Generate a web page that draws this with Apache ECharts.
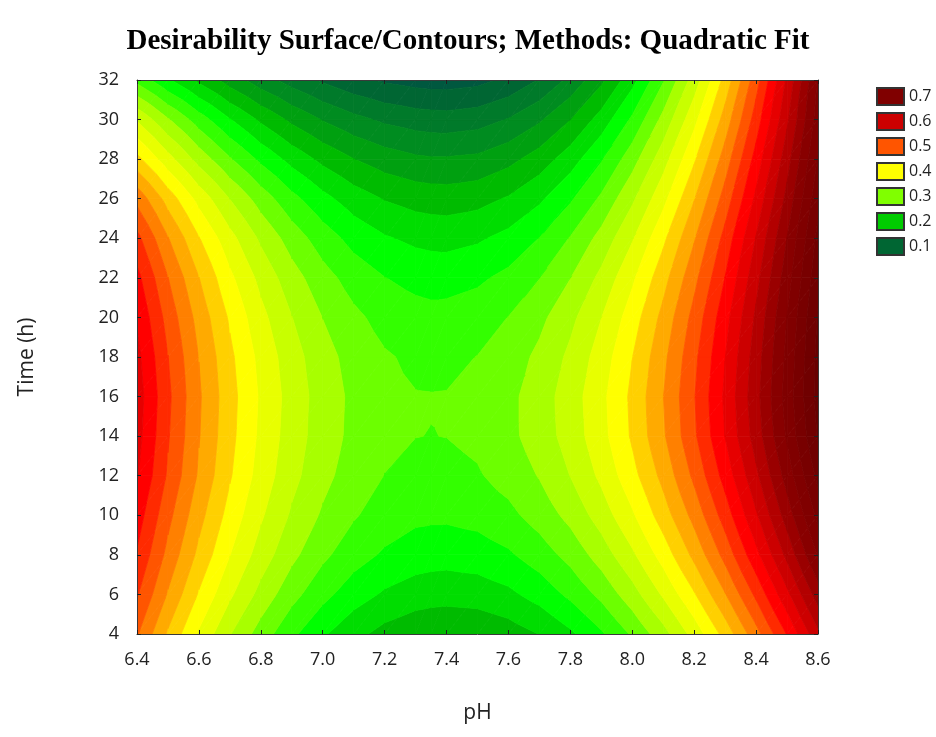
<!DOCTYPE html>
<html>
<head>
<meta charset="utf-8">
<title>Desirability Surface/Contours</title>
<script src="https://cdn.jsdelivr.net/npm/echarts@6/dist/echarts.min.js"></script>
<style>
  html, body { margin: 0; padding: 0; background: #fff; }
  #main { width: 936px; height: 737px; }
</style>
</head>
<body>
<div id="main"></div>
<script>
  // grid of the fitted surface (extra column at 7.35 for the saddle)
  const phValues = [6.4, 6.5, 6.6, 6.7, 6.8, 6.9, 7.0, 7.1, 7.2, 7.3, 7.35, 7.4, 7.5, 7.6, 7.7, 7.8, 7.9, 8.0, 8.1, 8.2, 8.3, 8.4, 8.5, 8.6];
  const timeValues = [4, 6, 8, 10, 12, 14, 16, 18, 20, 22, 24, 26, 28, 30, 32];

  // desirability along each time row, one value per pH column
  const d04 = [0.490, 0.434, 0.384, 0.339, 0.301, 0.268, 0.241, 0.220, 0.204, 0.194, 0.191, 0.190, 0.192, 0.200, 0.213, 0.233, 0.259, 0.291, 0.328, 0.372, 0.422, 0.478, 0.539, 0.607];
  const d06 = [0.515, 0.460, 0.410, 0.367, 0.329, 0.296, 0.270, 0.249, 0.234, 0.225, 0.223, 0.222, 0.224, 0.232, 0.247, 0.268, 0.294, 0.327, 0.366, 0.410, 0.461, 0.518, 0.581, 0.650];
  const d08 = [0.535, 0.480, 0.431, 0.388, 0.351, 0.319, 0.293, 0.273, 0.259, 0.250, 0.248, 0.247, 0.250, 0.259, 0.275, 0.296, 0.324, 0.358, 0.398, 0.444, 0.496, 0.555, 0.619, 0.690];
  const d10 = [0.550, 0.495, 0.446, 0.403, 0.366, 0.334, 0.309, 0.290, 0.276, 0.268, 0.267, 0.267, 0.271, 0.281, 0.298, 0.320, 0.349, 0.384, 0.425, 0.471, 0.524, 0.584, 0.649, 0.720];
  const d12 = [0.565, 0.509, 0.459, 0.415, 0.377, 0.345, 0.320, 0.300, 0.287, 0.281, 0.280, 0.280, 0.285, 0.297, 0.314, 0.338, 0.368, 0.404, 0.445, 0.493, 0.547, 0.607, 0.673, 0.745];
  const d14 = [0.572, 0.515, 0.464, 0.420, 0.382, 0.350, 0.325, 0.306, 0.294, 0.2878, 0.2872, 0.2878, 0.293, 0.306, 0.324, 0.348, 0.379, 0.416, 0.459, 0.508, 0.563, 0.624, 0.691, 0.765];
  const d16 = [0.575, 0.518, 0.466, 0.422, 0.384, 0.352, 0.326, 0.307, 0.294, 0.2885, 0.2882, 0.2885, 0.294, 0.306, 0.325, 0.350, 0.381, 0.418, 0.462, 0.511, 0.567, 0.629, 0.698, 0.772];
  const d18 = [0.570, 0.513, 0.462, 0.418, 0.380, 0.348, 0.322, 0.303, 0.290, 0.283, 0.282, 0.282, 0.288, 0.300, 0.318, 0.343, 0.374, 0.412, 0.456, 0.506, 0.562, 0.625, 0.694, 0.770];
  const d20 = [0.560, 0.503, 0.453, 0.409, 0.370, 0.338, 0.312, 0.293, 0.279, 0.272, 0.270, 0.271, 0.276, 0.288, 0.306, 0.331, 0.362, 0.400, 0.445, 0.496, 0.553, 0.617, 0.688, 0.765];
  const d22 = [0.545, 0.488, 0.438, 0.393, 0.355, 0.323, 0.297, 0.277, 0.263, 0.255, 0.253, 0.253, 0.258, 0.269, 0.287, 0.312, 0.344, 0.383, 0.428, 0.480, 0.538, 0.604, 0.676, 0.755];
  const d24 = [0.520, 0.464, 0.414, 0.371, 0.333, 0.301, 0.275, 0.254, 0.240, 0.232, 0.230, 0.229, 0.234, 0.245, 0.263, 0.289, 0.321, 0.360, 0.407, 0.460, 0.521, 0.589, 0.663, 0.745];
  const d26 = [0.480, 0.427, 0.379, 0.337, 0.301, 0.270, 0.245, 0.225, 0.211, 0.203, 0.201, 0.200, 0.204, 0.215, 0.233, 0.259, 0.292, 0.333, 0.380, 0.436, 0.498, 0.568, 0.645, 0.730];
  const d28 = [0.420, 0.372, 0.328, 0.290, 0.257, 0.229, 0.206, 0.188, 0.175, 0.167, 0.165, 0.165, 0.168, 0.180, 0.199, 0.226, 0.260, 0.302, 0.352, 0.409, 0.474, 0.547, 0.627, 0.715];
  const d30 = [0.360, 0.315, 0.275, 0.239, 0.208, 0.182, 0.161, 0.145, 0.133, 0.126, 0.124, 0.123, 0.127, 0.139, 0.159, 0.187, 0.223, 0.267, 0.320, 0.380, 0.448, 0.524, 0.608, 0.700];
  const d32 = [0.280, 0.241, 0.207, 0.176, 0.149, 0.127, 0.109, 0.094, 0.084, 0.078, 0.076, 0.076, 0.080, 0.093, 0.114, 0.144, 0.182, 0.229, 0.285, 0.349, 0.421, 0.502, 0.592, 0.690];
  const desirability = [d04, d06, d08, d10, d12, d14, d16, d18, d20, d22, d24, d26, d28, d30, d32];

  // legend
  const legendLabels = ['0.7', '0.6', '0.5', '0.4', '0.3', '0.2', '0.1'];
  const legendColors = ['#800000', '#cc0000', '#ff5500', '#ffff00', '#80ff00', '#00cc00', '#006633'];

  // contour bands: one colour per 0.025 step, centred on 0.075, 0.100 ... 0.775
  const bandStart = 0.075;
  const bandStep = 0.025;
  const bandColors = [
    '#00583f', '#006633', '#007a2a', '#008c20', '#00a010', '#00bb00', '#00dd00', '#00ff00',
    '#33ff00', '#6cff00', '#a8ff00', '#c8ff00', '#e8ff00', '#ffff00', '#ffd000', '#ffaa00',
    '#ff8000', '#ff5500', '#ff2a00', '#ff0000', '#e60000', '#cc0000', '#b30000', '#9a0000',
    '#880000', '#800000', '#780000', '#700000', '#680000'
  ];

  function bandIndex(v) {
    let k = Math.round((v - bandStart) / bandStep);
    return Math.max(0, Math.min(bandColors.length - 1, k));
  }

  // keep the part of a polygon above (or below) a level, points are [ph, time, value]
  function clipPoly(poly, level, keepAbove) {
    let out = [];
    for (let n = 0; n < poly.length; n++) {
      let a = poly[n], b = poly[(n + 1) % poly.length];
      let da = keepAbove ? a[2] - level : level - a[2];
      let db = keepAbove ? b[2] - level : level - b[2];
      if (da >= 0) out.push(a);
      if ((da >= 0) !== (db >= 0)) {
        let s = da / (da - db);
        out.push([a[0] + s * (b[0] - a[0]), a[1] + s * (b[1] - a[1]), a[2] + s * (b[2] - a[2])]);
      }
    }
    return out;
  }

  function renderCell(params, api) {
    let i = api.value(2), j = api.value(3);
    let p = (a, b) => [phValues[a], timeValues[b], desirability[b][a]];
    let c00 = p(i, j), c10 = p(i + 1, j), c01 = p(i, j + 1), c11 = p(i + 1, j + 1);
    let tris = [[c00, c10, c11], [c00, c11, c01]];
    let children = [];
    tris.forEach(tri => {
      let vs = tri.map(q => q[2]);
      let k0 = bandIndex(Math.min(...vs)), k1 = bandIndex(Math.max(...vs));
      for (let k = k0; k <= k1; k++) {
        let poly = tri;
        if (k > 0) poly = clipPoly(poly, bandStart + (k - 0.5) * bandStep, true);
        if (k < bandColors.length - 1) poly = clipPoly(poly, bandStart + (k + 0.5) * bandStep, false);
        if (poly.length < 3) continue;
        children.push({
          type: 'polygon',
          shape: { points: poly.map(q => api.coord([q[0], q[1]])) },
          style: { fill: bandColors[k], stroke: bandColors[k], lineWidth: 0.8 }
        });
      }
    });
    return { type: 'group', children: children };
  }

  let cells = [];
  for (let j = 0; j < timeValues.length - 1; j++) {
    for (let i = 0; i < phValues.length - 1; i++) {
      cells.push([(phValues[i] + phValues[i + 1]) / 2, (timeValues[j] + timeValues[j + 1]) / 2, i, j]);
    }
  }

  const labelFont = 'Open Sans';
  const frame = { show: true, onZero: false, lineStyle: { color: '#3a3a3a', width: 1 } };
  const ticks = { show: true, inside: true, length: 4, lineStyle: { color: '#222' } };

  let chart = echarts.init(document.getElementById('main'));
  chart.setOption({
    animation: false,
    backgroundColor: '#fff',
    title: {
      text: 'Desirability Surface/Contours; Methods: Quadratic Fit',
      left: 'center',
      top: 22,
      textStyle: { fontFamily: 'Liberation Serif', fontWeight: 'bold', fontSize: 29, color: '#000' }
    },
    grid: { left: 137, right: 118, top: 80, bottom: 103 },
    legend: {
      data: legendLabels,
      orient: 'vertical',
      left: 871,
      top: 82,
      icon: 'rect',
      itemWidth: 27,
      itemHeight: 17,
      itemGap: 6,
      selectedMode: false,
      textStyle: { fontFamily: labelFont, fontSize: 16, color: '#222' }
    },
    xAxis: [{
      type: 'value', min: 6.4, max: 8.6, interval: 0.2, position: 'bottom', z: 10,
      name: 'pH', nameLocation: 'middle', nameGap: 69,
      nameTextStyle: { fontFamily: labelFont, fontSize: 21, color: '#222' },
      axisLine: frame, axisTick: ticks,
      axisLabel: { margin: 17, fontFamily: labelFont, fontSize: 18, color: '#222', formatter: v => v.toFixed(1) },
      splitLine: { show: false }
    }, {
      type: 'value', min: 6.4, max: 8.6, interval: 0.2, position: 'top', z: 10,
      axisLine: frame, axisTick: ticks, axisLabel: { show: false }, splitLine: { show: false }
    }],
    yAxis: [{
      type: 'value', min: 4, max: 32, interval: 2, position: 'left', z: 10,
      name: 'Time (h)', nameLocation: 'middle', nameGap: 99, nameRotate: 90,
      nameTextStyle: { fontFamily: labelFont, fontSize: 21, color: '#222' },
      axisLine: frame, axisTick: ticks,
      axisLabel: { margin: 18, fontFamily: labelFont, fontSize: 18, color: '#222' },
      splitLine: { show: false }
    }, {
      type: 'value', min: 4, max: 32, interval: 2, position: 'right', z: 10,
      axisLine: frame, axisTick: ticks, axisLabel: { show: false }, splitLine: { show: false }
    }],
    series: [{
      type: 'custom',
      renderItem: renderCell,
      data: cells,
      encode: { x: 0, y: 1 },
      clip: true,
      silent: true
    }].concat(legendLabels.map((name, n) => ({
      name: name,
      type: 'scatter',
      data: [],
      itemStyle: { color: legendColors[n], opacity: 1, borderColor: '#333', borderWidth: 1 }
    })))
  });
</script>
</body>
</html>
